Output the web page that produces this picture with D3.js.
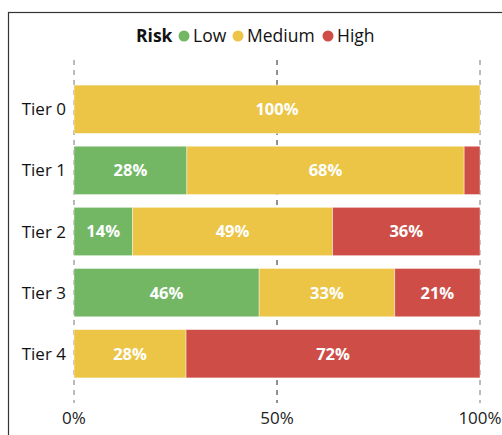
<!DOCTYPE html>
<html>
<head>
<meta charset="utf-8">
<script src="https://cdn.jsdelivr.net/npm/d3@7"></script>
<style>
  body { margin: 0; background: #fff; }
  text { font-family: "Open Sans", "Noto Sans", sans-serif; }
</style>
</head>
<body>
<div id="chart"></div>
<script>
const tiers = ["Tier 0", "Tier 1", "Tier 2", "Tier 3", "Tier 4"];
const riskLevels = ["Low", "Medium", "High"];
const lowValues = [0, 27.8, 14.4, 45.6, 0];
const mediumValues = [100, 68.3, 49.3, 33.4, 27.6];
const highValues = [0, 3.9, 36.3, 21.0, 72.4];
const tickValues = [0, 50, 100];

const colors = { Low: "#73b765", Medium: "#ecc546", High: "#ce4e47" };

const width = 502, height = 435;
const margin = { top: 85, right: 22, bottom: 58, left: 74 };

const svg = d3.select("#chart").append("svg")
    .attr("width", width)
    .attr("height", height);

// frame
svg.append("rect")
    .attr("x", 8.5).attr("y", 12.5)
    .attr("width", 520).attr("height", 460)
    .attr("fill", "none")
    .attr("stroke", "#333")
    .attr("stroke-width", 1.2);

const rows = tiers.map((t, i) => ({ tier: t, Low: lowValues[i], Medium: mediumValues[i], High: highValues[i] }));
const series = d3.stack().keys(riskLevels)(rows);

const x = d3.scaleLinear().domain([0, 100]).range([margin.left, width - margin.right]);
const y = d3.scaleBand().domain(tiers)
    .range([margin.top - 6, height - margin.bottom + 7])
    .paddingInner(0.21).paddingOuter(0.1);

// dashed grid lines
svg.append("g").selectAll("line")
    .data(tickValues)
    .join("line")
    .attr("x1", d => x(d)).attr("x2", d => x(d))
    .attr("y1", 60).attr("y2", 403)
    .attr("stroke", d => d === 50 ? "#222" : "#777")
    .attr("stroke-width", 1)
    .attr("stroke-dasharray", "5,5");

// bars
const layer = svg.append("g").selectAll("g")
    .data(series)
    .join("g")
    .attr("fill", d => colors[d.key]);

layer.selectAll("rect")
    .data(d => d)
    .join("rect")
    .attr("x", d => x(d[0]))
    .attr("y", d => y(d.data.tier))
    .attr("width", d => Math.max(0, x(d[1]) - x(d[0])))
    .attr("height", y.bandwidth())
    .attr("stroke", "#fff")
    .attr("stroke-opacity", 0.5)
    .attr("stroke-width", 0.8);

// value labels
layer.selectAll("text")
    .data(d => d.filter(s => s[1] - s[0] >= 8))
    .join("text")
    .attr("x", d => (x(d[0]) + x(d[1])) / 2)
    .attr("y", d => y(d.data.tier) + y.bandwidth() / 2)
    .attr("dy", "0.36em")
    .attr("text-anchor", "middle")
    .attr("fill", "#fff")
    .attr("font-size", 16.5)
    .attr("font-weight", "bold")
    .text(d => Math.round(d[1] - d[0]) + "%");

// tier labels
svg.append("g").selectAll("text")
    .data(tiers)
    .join("text")
    .attr("x", margin.left - 8)
    .attr("y", d => y(d) + y.bandwidth() / 2)
    .attr("dy", "0.36em")
    .attr("text-anchor", "end")
    .attr("font-size", 17)
    .attr("fill", "#111")
    .text(d => d);

// x tick labels
svg.append("g").selectAll("text")
    .data(tickValues)
    .join("text")
    .attr("x", d => x(d))
    .attr("y", 424)
    .attr("text-anchor", "middle")
    .attr("font-size", 17)
    .attr("fill", "#222")
    .text(d => d + "%");

// legend
const legend = svg.append("g").attr("transform", "translate(136, 36)");
legend.append("text")
    .attr("x", 0).attr("dy", "0.36em")
    .attr("font-size", 17.5)
    .attr("font-weight", "bold")
    .attr("fill", "#111")
    .text("Risk");

const legendX = [48, 102, 192];
riskLevels.forEach((r, i) => {
    legend.append("circle")
        .attr("cx", legendX[i]).attr("cy", 0)
        .attr("r", 5.5)
        .attr("fill", colors[r]);
    legend.append("text")
        .attr("x", legendX[i] + 9).attr("dy", "0.36em")
        .attr("font-size", 17.5)
        .attr("fill", "#111")
        .text(r);
});
</script>
</body>
</html>
